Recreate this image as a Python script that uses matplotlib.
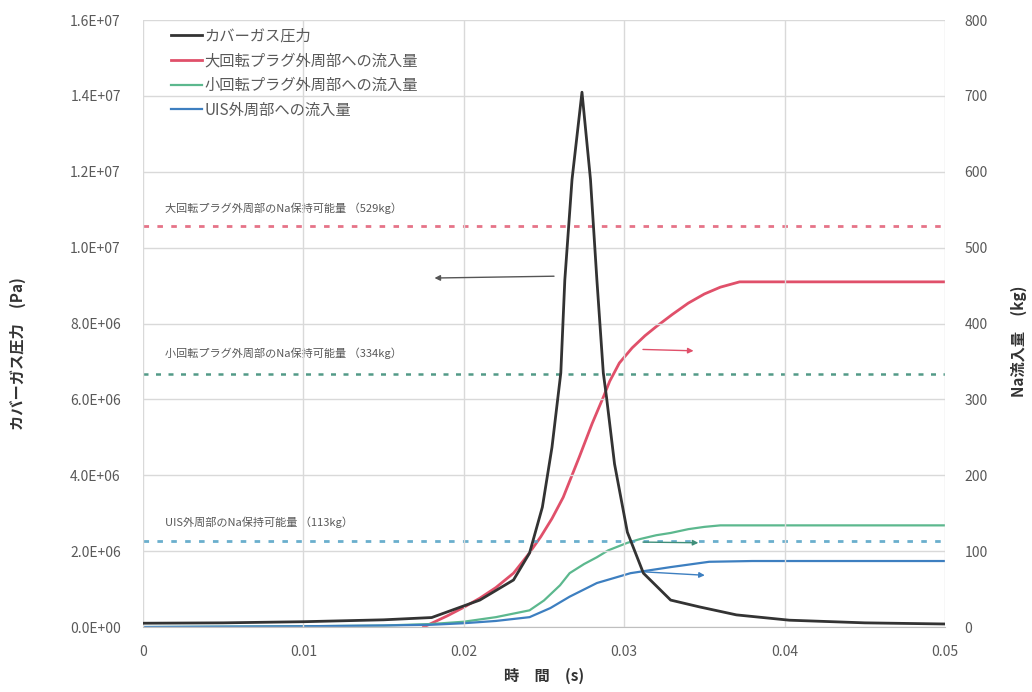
import matplotlib.pyplot as plt
from matplotlib.ticker import FuncFormatter

plt.rcParams['font.family'] = ['Noto Sans CJK JP', 'DejaVu Sans']

# カバーガス圧力 [Pa]
t_p = [0, 0.005, 0.01, 0.015, 0.018, 0.021, 0.0231, 0.0241, 0.0249, 0.0255, 0.02605,
       0.0263, 0.02675, 0.02737, 0.0279, 0.0283, 0.0287, 0.0289, 0.0294, 0.0302, 0.0312,
       0.0329, 0.0347, 0.037, 0.0403, 0.045, 0.05]
p_cover = [1.0e5, 1.1e5, 1.4e5, 1.9e5, 2.5e5, 7.1e5, 1.24e6, 1.95e6, 3.16e6, 4.74e6, 6.7e6,
           9.15e6, 1.18e7, 1.41e7, 1.18e7, 9.15e6, 6.7e6, 6.06e6, 4.3e6, 2.5e6, 1.42e6,
           7.1e5, 5.3e5, 3.2e5, 1.8e5, 1.1e5, 8.0e4]

# Na流入量 [kg]
t_big = [0.0175, 0.019, 0.02, 0.021, 0.022, 0.0231, 0.024, 0.0248, 0.0255, 0.0262, 0.0272,
         0.028, 0.0287, 0.0291, 0.0297, 0.0305, 0.0313, 0.032, 0.033, 0.034, 0.035, 0.036,
         0.0372, 0.05]
m_big = [0, 15, 26, 38, 52, 71, 95, 119, 143, 171, 224, 268, 303, 324, 348, 368, 384, 396,
         412, 427, 439, 448, 455, 455]

t_small = [0, 0.01, 0.015, 0.018, 0.02, 0.022, 0.0241, 0.025, 0.026, 0.0266, 0.0275, 0.0283,
           0.029, 0.0302, 0.031, 0.032, 0.0329, 0.034, 0.035, 0.036, 0.05]
m_small = [0, 1, 2, 4, 7, 13, 22, 35, 55, 71, 83, 92, 101, 111, 116, 121, 124, 129, 132,
           134, 134]

t_uis = [0, 0.01, 0.015, 0.018, 0.02, 0.022, 0.0241, 0.0254, 0.0266, 0.0283, 0.0304, 0.0329,
         0.0353, 0.038, 0.05]
m_uis = [0, 1, 2, 3, 5, 8, 13, 25, 40, 58, 71, 79, 86, 87, 87]

# Na保持可能量 [kg]
limit_big = 529
limit_small = 334
limit_uis = 113

labels = ['カバーガス圧力', '大回転プラグ外周部への流入量', '小回転プラグ外周部への流入量', 'UIS外周部への流入量']
limit_labels = ['大回転プラグ外周部のNa保持可能量 （529kg）',
                '小回転プラグ外周部のNa保持可能量 （334kg）',
                'UIS外周部のNa保持可能量 （113kg）']

c_black = '#333333'
c_red = '#e0506a'
c_green = '#5cb88e'
c_blue = '#3d7fc0'
c_text = '#595959'

fig = plt.figure(figsize=(10.32, 6.92), dpi=100)
ax = fig.add_axes([0.1386, 0.0939, 0.777, 0.877])
ax2 = ax.twinx()

ax.set_zorder(ax2.get_zorder() + 1)
ax.patch.set_visible(False)

ax.grid(True, color='#d9d9d9', linewidth=1)
ax.set_axisbelow(True)

l1, = ax.plot(t_p, p_cover, color=c_black, linewidth=2, label=labels[0])
l2, = ax2.plot(t_big, m_big, color=c_red, linewidth=2, label=labels[1])
l3, = ax2.plot(t_small, m_small, color=c_green, linewidth=1.6, label=labels[2])
l4, = ax2.plot(t_uis, m_uis, color=c_blue, linewidth=1.6, label=labels[3])

ax2.axhline(limit_big, color=c_red, linestyle=(0, (2, 3)), linewidth=2, alpha=0.8)
ax2.axhline(limit_small, color='#3f8f7a', linestyle=(0, (2, 3)), linewidth=1.8, alpha=0.9)
ax2.axhline(limit_uis, color='#5aa6c8', linestyle=(0, (2, 3)), linewidth=2, alpha=0.9)

ax2.text(0.0014, limit_big + 18, limit_labels[0], fontsize=8, color=c_text)
ax2.text(0.0014, limit_small + 22, limit_labels[1], fontsize=8, color=c_text)
ax2.text(0.0014, limit_uis + 20, limit_labels[2], fontsize=8, color=c_text)

# 各曲線がどちらの軸を参照するかを示す矢印
arrow = dict(arrowstyle='-|>', linewidth=1, mutation_scale=8)
ax.annotate('', xy=(0.018, 9.2e6), xytext=(0.0258, 9.25e6),
            arrowprops=dict(arrow, color='#555555'))
ax2.annotate('', xy=(0.0345, 364), xytext=(0.031, 366),
             arrowprops=dict(arrow, color=c_red))
ax2.annotate('', xy=(0.0348, 111), xytext=(0.031, 112),
             arrowprops=dict(arrow, color='#3f8f7a'))
ax2.annotate('', xy=(0.0352, 68), xytext=(0.031, 73),
             arrowprops=dict(arrow, color=c_blue))

ax.set_xlim(0, 0.05)
ax.set_ylim(0, 1.6e7)
ax2.set_ylim(0, 800)
ax.set_xticks([0, 0.01, 0.02, 0.03, 0.04, 0.05])
ax.set_xticklabels(['0', '0.01', '0.02', '0.03', '0.04', '0.05'])
ax.set_yticks([i * 2e6 for i in range(9)])
ax.yaxis.set_major_formatter(FuncFormatter(lambda v, pos: f'{v:.1E}'))
ax2.set_yticks(range(0, 801, 100))

for a in (ax, ax2):
    for s in a.spines.values():
        s.set_visible(False)
    a.tick_params(length=0, colors=c_text, labelsize=10)
ax.spines['bottom'].set_visible(True)
ax.spines['bottom'].set_color('#bfbfbf')
ax.tick_params(axis='x', pad=13)
ax.tick_params(axis='y', pad=16)
ax2.tick_params(axis='y', pad=14)

ax.set_xlabel('時　間　(s)', fontsize=11, fontweight='bold', color='#333333', labelpad=6)
ax.set_ylabel('カバーガス圧力　(Pa)', fontsize=11, fontweight='bold', color='#333333')
ax2.set_ylabel('Na流入量　(kg)', fontsize=11, fontweight='bold', color='#333333', rotation=90)
ax.yaxis.set_label_coords(-0.146, 0.45)
ax2.yaxis.set_label_coords(1.082, 0.47)

ax.legend(handles=[l1, l2, l3, l4], loc='upper left', bbox_to_anchor=(0.018, 1.01),
          frameon=False, fontsize=11, labelcolor=c_text, handlelength=2.0,
          handletextpad=0.2, labelspacing=0.5)

fig.savefig('out.png', dpi=100)
